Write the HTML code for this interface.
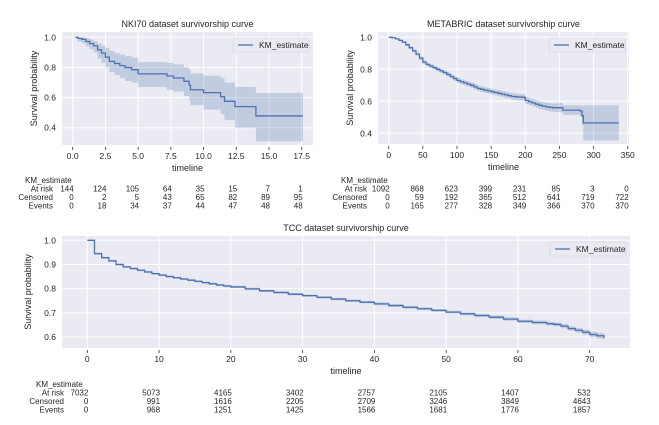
<!DOCTYPE html>
<html><head><meta charset="utf-8"><style>
html,body{margin:0;padding:0;background:#fff;}
svg{display:block;font-family:"Liberation Sans",sans-serif;}
</style></head><body>
<svg id="c" width="659" height="425" viewBox="0 0 659 425"></svg>
<script>
// ---- NKI70 data ----
const nkiTimes = [0.2,0.4,0.7,1.0,1.3,1.6,1.9,2.2,2.5,2.8,3.2,3.6,4.0,4.5,5.0,7.2,7.7,8.5,8.9,9.0,10.0,11.3,11.6,12.4,14.0,17.6];
const nkiSurv  = [1.0,0.993,0.986,0.972,0.958,0.944,0.917,0.895,0.868,0.84,0.826,0.812,0.799,0.785,0.757,0.743,0.73,0.708,0.683,0.652,0.633,0.605,0.575,0.54,0.478,0.478];
const nkiLower = [1.0,0.97,0.96,0.94,0.92,0.90,0.86,0.83,0.80,0.77,0.75,0.73,0.71,0.70,0.67,0.65,0.64,0.61,0.58,0.55,0.52,0.49,0.45,0.40,0.31,0.31];
const nkiUpper = [1.0,1.0,1.0,0.995,0.985,0.975,0.96,0.945,0.93,0.91,0.895,0.885,0.875,0.865,0.835,0.83,0.82,0.80,0.785,0.76,0.745,0.73,0.70,0.67,0.63,0.63];
const nkiTicks = ["0.0","2.5","5.0","7.5","10.0","12.5","15.0","17.5"];
const nkiAtRisk = ["144","124","105","64","35","15","7","1"];
const nkiCensored = ["0","2","5","43","65","82","89","95"];
const nkiEvents = ["0","18","34","37","44","47","48","48"];
// ---- METABRIC data ----
const metTimes = [0,5,10,15,20,25,30,35,40,45,50,55,60,65,70,75,80,85,90,95,100,105,110,115,120,125,130,135,140,145,150,155,160,165,170,175,180,185,190,195,200,205,210,215,220,225,230,235,240,250,255,280,283,285,337];
const metSurv  = [1.0,0.997,0.99,0.981,0.97,0.953,0.935,0.915,0.895,0.87,0.845,0.83,0.82,0.81,0.80,0.79,0.78,0.768,0.755,0.742,0.73,0.722,0.715,0.707,0.70,0.69,0.68,0.675,0.67,0.665,0.66,0.655,0.65,0.645,0.64,0.635,0.63,0.628,0.626,0.625,0.605,0.597,0.59,0.582,0.575,0.57,0.565,0.562,0.56,0.56,0.545,0.54,0.51,0.465,0.465];
const metHalf  = [0,0.003,0.004,0.005,0.006,0.007,0.008,0.009,0.01,0.011,0.012,0.012,0.012,0.013,0.013,0.013,0.014,0.014,0.015,0.015,0.016,0.016,0.016,0.016,0.017,0.017,0.017,0.017,0.018,0.018,0.018,0.018,0.019,0.019,0.019,0.019,0.02,0.02,0.02,0.02,0.022,0.022,0.023,0.023,0.024,0.024,0.025,0.026,0.027,0.03,0.03,0.035,0.06,0.11,0.11];
const metTicks = ["0","50","100","150","200","250","300","350"];
const metAtRisk = ["1092","868","623","399","231","85","3","0"];
const metCensored = ["0","59","192","365","512","641","719","722"];
const metEvents = ["0","165","277","328","349","366","370","370"];
// ---- TCC data ----
const tccTimes = [0,1,2,3,4,5,6,7,8,9,10,11,12,13,14,15,16,17,18,19,20,22,24,26,28,30,32,34,36,38,40,42,44,46,48,50,52,54,56,58,60,62,64,65,66,67,68,69,70,71,72];
const tccSurv  = [1.0,0.945,0.928,0.915,0.9,0.89,0.883,0.876,0.869,0.862,0.856,0.85,0.845,0.84,0.835,0.83,0.825,0.82,0.815,0.811,0.807,0.799,0.791,0.784,0.777,0.771,0.764,0.757,0.75,0.744,0.737,0.73,0.723,0.717,0.71,0.703,0.696,0.689,0.682,0.674,0.665,0.66,0.655,0.652,0.645,0.635,0.628,0.62,0.61,0.605,0.595];
const tccHalf  = [0,0.004,0.004,0.004,0.004,0.004,0.004,0.004,0.004,0.004,0.004,0.004,0.004,0.004,0.004,0.004,0.004,0.005,0.005,0.005,0.005,0.005,0.005,0.005,0.005,0.005,0.005,0.005,0.005,0.005,0.006,0.006,0.006,0.006,0.006,0.006,0.006,0.007,0.007,0.007,0.007,0.008,0.008,0.008,0.009,0.009,0.01,0.01,0.011,0.012,0.013];
const tccTicks = ["0","10","20","30","40","50","60","70"];
const tccAtRisk = ["7032","5073","4165","3402","2757","2105","1407","532"];
const tccCensored = ["0","991","1616","2205","2709","3246","3849","4643"];
const tccEvents = ["0","968","1251","1425","1566","1681","1776","1857"];

const NS="http://www.w3.org/2000/svg";
const svg=document.getElementById('c');
function mk(tag,attrs,parent){const e=document.createElementNS(NS,tag);for(const k in attrs)e.setAttribute(k,attrs[k]);(parent||svg).appendChild(e);return e;}
function txt(s,x,y,anchor,size,parent,rot){const t=mk('text',{x:x,y:y,'text-anchor':anchor,'font-size':size,fill:'#262626'},parent);if(rot)t.setAttribute('transform','rotate(-90 '+x+' '+y+')');t.textContent=s;return t;}

function chart(o){
  const g=mk('g',{});
  
  
  const X=v=>o.x0+(v-o.t0)*(o.x1-o.x0)/(o.t1-o.t0);
  const Y=v=>o.y0+(o.v0-v)*(o.y1-o.y0)/(o.v0-o.v1);
  const bg=mk('rect',{x:o.L,y:o.T,width:o.R-o.L,height:o.B-o.T,fill:'#eaeaf2'},g);
  
  
  o.xTicks.forEach((lab,i)=>{const v=o.t0+i*o.tStep;const x=X(v);
    mk('line',{x1:x,x2:x,y1:o.T,y2:o.B,stroke:'#fff','stroke-width':1},g);
    mk('line',{x1:x,x2:x,y1:o.B+2,y2:o.B+5,stroke:'#333','stroke-width':0.8},g);
    const t=txt(lab,x,o.B+14,'middle',8.5,g);
    
    
  });
  o.yTicks.forEach(v=>{const y=Y(v);
    mk('line',{x1:o.L,x2:o.R,y1:y,y2:y,stroke:'#fff','stroke-width':1},g);
    const t=txt(v.toFixed(1),o.L-6,y+3,'end',8.5,g);
    
    
  });
  const tm=o.times,s=o.surv;
  const lo=o.lower||s.map((v,i)=>v-o.half[i]);
  const hi=o.upper||s.map((v,i)=>Math.min(1,v+o.half[i]));
  let up='',dn='';
  for(let i=0;i<tm.length;i++){
    const xa=X(tm[i]),xb=i<tm.length-1?X(tm[i+1]):X(tm[i]);
    up+=(i?'L':'M')+xa+','+Y(hi[i])+'L'+xb+','+Y(hi[i]);
  }
  for(let i=tm.length-1;i>=0;i--){
    const xa=X(tm[i]),xb=i<tm.length-1?X(tm[i+1]):X(tm[i]);
    dn+='L'+xb+','+Y(lo[i])+'L'+xa+','+Y(lo[i]);
  }
  const band=mk('path',{d:up+dn+'Z',fill:'#4c72b0','fill-opacity':0.25,stroke:'none'},g);
  
  
  let d='';
  for(let i=0;i<tm.length;i++){
    const xa=X(tm[i]),xb=i<tm.length-1?X(tm[i+1]):X(tm[i]);
    d+=(i?'L':'M')+xa+','+Y(s[i])+'L'+xb+','+Y(s[i]);
  }
  const line=mk('path',{d:d,fill:'none',stroke:'#4c72b0','stroke-width':1.3},g);
  
  
  const lg=mk('g',{},g);
  
  
  mk('rect',{x:o.lgX,y:o.T+6,width:o.R-4-o.lgX,height:14,fill:'#eaeaf2',stroke:'#d0d0d8','stroke-width':0.6,rx:2},lg);
  mk('line',{x1:o.lgX+5,x2:o.lgX+20,y1:o.T+13,y2:o.T+13,stroke:'#4c72b0','stroke-width':1.3},lg);
  txt('KM_estimate',o.lgX+26,o.T+16,'start',8.5,lg);
  const ti=txt(o.title,(o.L+o.R)/2,o.T-5,'middle',9,g);
  
  
  const xl=txt('timeline',(o.L+o.R)/2,o.B+26,'middle',9,g);
  
  
  const yl=txt('Survival probability',o.yLabX,(o.T+o.B)/2,'middle',9,g,true);
  
  
  const tb=mk('g',{},g);
  
  
  const by=o.tblY;
  txt('KM_estimate',o.kmX,by,'start',8,tb);
  const rows=[['At risk',o.atRisk],['Censored',o.censored],['Events',o.events]];
  rows.forEach((r,j)=>{const y=by+8.5*(j+1);
    txt(r[0],o.rowLabX,y,'end',8,tb);
    r[1].forEach((v,i)=>txt(v,X(o.t0+i*o.tStep)+1,y,'end',8,tb));
  });
}

chart({name:'nki70-chart',title:'NKI70 dataset survivorship curve',L:62,R:313,T:32,B:145,
  t0:0,t1:17.5,x0:72.7,x1:301.7,tStep:2.5,v0:1.0,v1:0.4,y0:37.3,y1:127.7,yTicks:[0.4,0.6,0.8,1.0],
  times:nkiTimes,surv:nkiSurv,lower:nkiLower,upper:nkiUpper,xTicks:nkiTicks,lgX:233,yLabX:37,
  tblY:183,kmX:25,rowLabX:53,atRisk:nkiAtRisk,censored:nkiCensored,events:nkiEvents});

chart({name:'metabric-chart',title:'METABRIC dataset survivorship curve',L:378,R:629,T:32,B:144,
  t0:0,t1:350,x0:388.7,x1:627.7,tStep:50,v0:1.0,v1:0.4,y0:37.3,y1:133.3,yTicks:[0.4,0.6,0.8,1.0],
  times:metTimes,surv:metSurv,half:metHalf,xTicks:metTicks,lgX:549,yLabX:353,
  tblY:183,kmX:341,rowLabX:367,atRisk:metAtRisk,censored:metCensored,events:metEvents});

chart({name:'tcc-chart',title:'TCC dataset survivorship curve',L:62,R:630,T:236,B:348,
  t0:0,t1:70,x0:87.3,x1:589.7,tStep:10,v0:1.0,v1:0.6,y0:240.3,y1:337,yTicks:[0.6,0.7,0.8,0.9,1.0],
  times:tccTimes,surv:tccSurv,half:tccHalf,xTicks:tccTicks,lgX:550,yLabX:31,
  tblY:387,kmX:36,rowLabX:64,atRisk:tccAtRisk,censored:tccCensored,events:tccEvents});
</script>
</body></html>
